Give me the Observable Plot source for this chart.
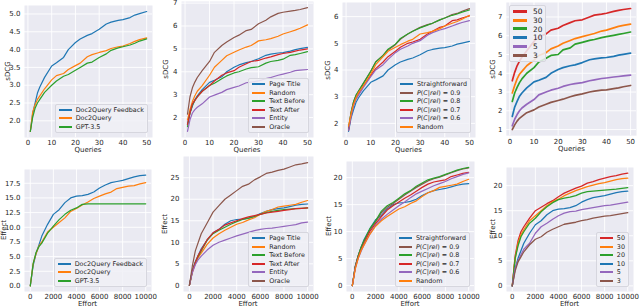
<!DOCTYPE html>
<html><head><meta charset="utf-8">
<script src="https://cdn.jsdelivr.net/npm/d3@7"></script>
<script src="https://cdn.jsdelivr.net/npm/@observablehq/plot@0.6"></script>
<style>
body{margin:0;background:#fff;}
#root{position:relative;width:640px;height:308px;overflow:hidden;font-family:"DejaVu Sans",sans-serif;color:#262626;}
.p{position:absolute;}
.lab{position:absolute;font-size:7px;white-space:nowrap;line-height:1;}
.leg{position:absolute;background:rgba(240,240,246,0.85);border:1px solid #d6d6de;border-radius:2px;padding:1px 3px 1px 2px;font-size:6.4px;}
.row{display:flex;align-items:center;height:8.5px;white-space:nowrap;}
.sw{width:13px;height:0;border-top:2px solid;margin-right:4px;margin-left:1px;}
</style></head><body><div id="root"></div>
<script>
// ---------- x grids ----------
const queries = [1,2,3,4,5,7,10,12,15,17,20,22,25,27,30,33,35,38,40,43,45,47,50];
const effort = [0,250,500,750,1000,1500,2000,2500,3000,3500,4000,4500,5000,5500,6000,6500,7000,7500,8000,8500,9000,9500,10000];

// ---------- tick values ----------
const queryTicks = [0,10,20,30,40,50];
const effortTicks = [0,2000,4000,6000,8000,10000];
const yTicks1 = [2.0,2.5,3.0,3.5,4.0,4.5,5.0];
const yTicks2 = [2,3,4,5,6,7];
const yTicks3 = [2,3,4,5,6];
const yTicks4 = [1,2,3,4,5,6,7];
const yTicks5 = [0,2.5,5,7.5,10,12.5,15,17.5];
const yTicks6 = [0,5,10,15,20,25];
const yTicks7 = [0,5,10,15,20];
const yTicks8 = [0,5,10,15,20];

// ---------- sDCG vs queries ----------
const feedbackQ  = [1.7,2.2,2.5,2.78,2.95,3.22,3.54,3.63,3.78,4.0,4.2,4.3,4.4,4.45,4.57,4.72,4.77,4.82,4.84,4.9,4.97,5.01,5.07];
const doc2queryQ = [1.7,2.25,2.45,2.6,2.7,2.9,3.15,3.27,3.33,3.44,3.55,3.62,3.8,3.86,3.92,3.97,4.03,4.08,4.1,4.17,4.23,4.28,4.33];
const gptQ       = [1.7,2.1,2.35,2.5,2.6,2.8,3.0,3.12,3.25,3.3,3.42,3.5,3.62,3.65,3.78,3.88,3.98,4.05,4.08,4.13,4.18,4.24,4.3];

const randomQ     = [1.9,2.35,2.7,2.95,3.15,3.4,3.85,4.2,4.5,4.7,4.85,4.95,5.08,5.15,5.35,5.4,5.45,5.55,5.65,5.75,5.82,5.9,6.05];
const textBeforeQ = [1.6,2.2,2.55,2.75,2.9,3.15,3.4,3.5,3.7,3.82,3.95,4.0,4.12,4.18,4.22,4.38,4.45,4.5,4.55,4.72,4.75,4.8,4.88];
const textAfterQ  = [1.7,2.2,2.6,2.75,2.9,3.15,3.4,3.6,3.85,3.95,4.05,4.2,4.35,4.45,4.5,4.6,4.65,4.75,4.8,4.85,4.9,4.95,5.0];
const entityQ     = [1.4,1.9,2.2,2.35,2.45,2.6,2.9,2.98,3.1,3.22,3.32,3.38,3.52,3.55,3.6,3.7,3.75,3.85,3.9,3.98,4.05,4.07,4.1];
const oracleQ     = [2.15,2.9,3.3,3.55,3.75,4.05,4.45,4.85,5.15,5.3,5.5,5.6,5.8,5.85,6.1,6.25,6.4,6.55,6.6,6.65,6.68,6.72,6.8];

const p09Q = [1.8,2.4,2.8,3.05,3.2,3.5,3.95,4.3,4.55,4.75,4.95,5.15,5.35,5.45,5.6,5.7,5.75,5.88,5.95,6.08,6.12,6.2,6.3];
const p08Q = [1.8,2.4,2.8,3.05,3.2,3.5,3.95,4.3,4.55,4.78,4.97,5.18,5.35,5.45,5.58,5.68,5.75,5.88,5.95,6.05,6.1,6.17,6.25];
const p07Q = [1.75,2.3,2.7,2.95,3.1,3.4,3.8,4.05,4.3,4.5,4.7,4.85,5.0,5.05,5.15,5.35,5.45,5.6,5.65,5.85,5.88,5.95,6.03];
const p06Q = [1.75,2.25,2.65,2.9,3.05,3.35,3.75,4.0,4.2,4.4,4.65,4.78,4.9,5.0,5.1,5.3,5.4,5.5,5.55,5.65,5.72,5.78,5.85];

const k50Q = [3.6,4.05,4.4,4.65,4.85,5.2,5.7,5.95,6.1,6.3,6.4,6.55,6.7,6.8,6.85,7.0,7.1,7.15,7.2,7.3,7.35,7.4,7.45];
const k30Q = [2.95,3.35,3.7,3.95,4.1,4.4,4.7,4.95,5.1,5.3,5.45,5.6,5.75,5.85,5.95,6.05,6.12,6.25,6.3,6.42,6.5,6.55,6.62];
const k20Q = [2.5,2.95,3.25,3.5,3.7,4.0,4.3,4.6,4.8,4.95,5.0,5.25,5.35,5.55,5.65,5.75,5.8,5.9,5.95,6.02,6.07,6.12,6.2];
const k5Q  = [1.2,1.55,1.8,2.0,2.15,2.35,2.6,2.85,3.0,3.1,3.2,3.3,3.4,3.45,3.5,3.6,3.65,3.72,3.75,3.8,3.83,3.86,3.9];
const k3Q  = [1.0,1.25,1.45,1.6,1.7,1.9,2.05,2.2,2.35,2.45,2.55,2.62,2.75,2.82,2.9,3.0,3.05,3.1,3.12,3.18,3.22,3.28,3.35];

// ---------- Effect vs effort ----------
const feedbackE  = [0,3.5,5.5,7.0,8.5,10.5,12.2,13.0,14.2,15.0,15.3,15.4,15.6,16.0,16.7,17.2,17.6,17.8,18.0,18.3,18.6,18.8,18.9];
const doc2queryE = [0,3.8,5.5,6.8,7.5,9.2,10.0,10.8,11.6,12.7,13.2,13.8,14.3,14.9,15.3,15.7,16.0,16.6,16.8,17.0,17.1,17.4,17.6];
const gptE       = [0,3.8,5.7,6.7,7.3,9.0,10.2,11.3,12.2,12.9,13.3,13.9,14.0,14.0,14.0,14.0,14.0,14.0,14.0,14.0,14.0,14.0,14.0];

const randomE     = [0,3.0,5.0,6.5,7.5,9.5,11.0,12.0,12.8,13.5,14.2,14.6,15.2,15.7,16.5,17.2,17.6,18.2,18.4,18.6,18.8,19.3,19.7];
const textBeforeE = [0,3.3,5.3,6.8,8.0,10.5,12.0,12.8,13.5,14.2,14.8,15.3,15.6,16.0,16.5,16.9,17.2,17.4,17.6,17.7,17.8,17.9,18.0];
const textAfterE  = [0,3.3,5.3,7.0,8.2,10.6,12.2,13.0,14.0,14.5,15.0,15.5,15.9,16.2,16.5,16.8,17.0,17.2,17.4,17.6,17.8,17.9,18.0];
const entityE     = [0,3.0,4.8,6.0,6.8,8.2,9.3,10.0,10.5,11.0,11.5,11.9,12.3,12.7,13.0,13.2,13.3,13.5,13.7,13.9,14.1,14.5,14.7];
const oracleE     = [0,4.5,8.0,10.0,12.0,14.5,17.0,18.5,20.0,21.0,22.0,23.0,23.5,24.5,25.2,26.0,26.3,26.7,27.0,27.5,28.0,28.2,28.5];

const p09E = [0,3.5,5.5,7.0,8.2,10.3,11.8,13.5,14.5,15.2,16.0,16.8,17.5,18.2,18.8,19.4,19.8,20.1,20.5,20.9,21.3,21.6,21.8];
const p08E = [0,3.5,5.5,7.1,8.3,10.5,12.0,13.8,14.8,15.4,16.2,17.0,17.6,18.4,19.0,19.6,19.9,20.2,20.6,21.0,21.4,21.7,21.9];
const p07E = [0,3.3,5.2,6.6,7.8,10.0,11.5,12.8,14.0,14.8,15.5,16.2,16.8,17.5,18.2,18.8,19.2,19.4,19.6,20.2,20.5,20.8,21.0];
const p06E = [0,3.2,5.0,6.3,7.5,9.5,11.2,12.3,13.2,14.0,14.8,15.5,16.3,17.0,17.5,18.0,18.5,18.9,19.3,19.8,20.2,20.6,20.9];

const k50E = [0,6.0,9.0,10.8,11.8,13.5,15.0,15.7,16.4,17.0,17.8,18.5,19.0,19.5,19.9,20.5,20.8,21.2,21.5,21.8,22.0,22.3,22.5];
const k30E = [0,5.5,8.5,10.2,11.2,13.0,14.0,15.0,16.0,16.8,17.3,18.0,18.5,19.0,19.4,19.8,20.1,20.4,20.6,20.9,21.2,21.4,21.5];
const k20E = [0,5.5,8.0,9.8,10.8,12.5,13.5,14.8,15.8,16.6,17.2,17.5,17.7,18.0,18.5,18.8,18.9,19.0,19.1,19.2,19.3,19.45,19.6];
const k5E  = [0,3.5,5.0,6.2,7.3,8.5,10.5,11.8,12.5,13.3,14.0,14.5,14.8,14.9,15.2,15.4,15.6,15.8,16.0,16.1,16.3,16.5,16.7];
const k3E  = [0,3.0,4.8,5.8,6.8,8.2,9.3,9.8,10.7,11.3,11.8,12.3,12.5,12.7,13.0,13.2,13.5,13.7,13.9,14.0,14.2,14.4,14.6];

// ---------- series names ----------
const namesDoc = ["Doc2Query Feedback","Doc2Query","GPT-3.5"];
const namesCtx = ["Page Title","Random","Text Before","Text After","Entity","Oracle"];
const namesProb = ["Straightforward","P(C|rel) = 0.9","P(C|rel) = 0.8","P(C|rel) = 0.7","P(C|rel) = 0.6","Random"];
const namesK = ["50","30","20","10","5","3"];

// ---------- styling / layout (not data) ----------
const C = {blue:"#1f77b4",orange:"#ff7f0e",green:"#2ca02c",red:"#d62728",purple:"#9467bd",brown:"#8c564b"};
const f1 = d3.format(".1f"), fInt = d => String(d);

const panels = [
 {xs:queries, xTicks:queryTicks, yTicks:yTicks1, yFmt:f1, xLabel:"Queries", yLabel:"sDCG",
  names:namesDoc, vals:[feedbackQ,doc2queryQ,gptQ], cols:["blue","orange","green"],
  frame:[24,152,5,137], ylx:8, legend:"lr", lw:1.2},
 {xs:queries, xTicks:queryTicks, yTicks:yTicks2, yFmt:fInt, xLabel:"Queries", yLabel:"sDCG",
  names:namesCtx, vals:[feedbackQ,randomQ,textBeforeQ,textAfterQ,entityQ,oracleQ], cols:["blue","orange","green","red","purple","brown"],
  frame:[181,313,1,137], ylx:166, legend:"lr", lw:1.2},
 {xs:queries, xTicks:queryTicks, yTicks:yTicks3, yFmt:fInt, xLabel:"Queries", yLabel:"sDCG",
  names:namesProb, vals:[feedbackQ,p09Q,p08Q,p07Q,p06Q,randomQ], cols:["blue","brown","green","red","purple","orange"],
  frame:[342,475,2,137], ylx:328, legend:"lr", lw:1.2},
 {xs:queries, xTicks:queryTicks, yTicks:yTicks4, yFmt:fInt, xLabel:"Queries", yLabel:"sDCG",
  names:namesK, vals:[k50Q,k30Q,k20Q,feedbackQ,k5Q,k3Q], cols:["red","orange","green","blue","purple","brown"],
  frame:[506,637,2,136], ylx:493, legend:"ul", lw:1.7},
 {xs:effort, xTicks:effortTicks, yTicks:yTicks5, yFmt:f1, xLabel:"Effort", yLabel:"Effect",
  names:namesDoc, vals:[feedbackE,doc2queryE,gptE], cols:["blue","orange","green"],
  frame:[24,151,169,291], ylx:4, legend:"lr", lw:1.2},
 {xs:effort, xTicks:effortTicks, yTicks:yTicks6, yFmt:fInt, xLabel:"Effort", yLabel:"Effect",
  names:namesCtx, vals:[feedbackE,randomE,textBeforeE,textAfterE,entityE,oracleE], cols:["blue","orange","green","red","purple","brown"],
  frame:[183,313,156,291], ylx:165, legend:"lr", lw:1.2},
 {xs:effort, xTicks:effortTicks, yTicks:yTicks7, yFmt:fInt, xLabel:"Effort", yLabel:"Effect",
  names:namesProb, vals:[feedbackE,p09E,p08E,p07E,p06E,randomE], cols:["blue","brown","green","red","purple","orange"],
  frame:[346,474,161,291], ylx:329, legend:"lr", lw:1.2},
 {xs:effort, xTicks:effortTicks, yTicks:yTicks8, yFmt:fInt, xLabel:"Effort", yLabel:"Effect",
  names:namesK, vals:[k50E,k30E,k20E,feedbackE,k5E,k3E], cols:["red","orange","green","blue","purple","brown"],
  frame:[506,633,167,291], ylx:493, legend:"lr", lw:1.3}
];

const root = document.getElementById("root");
const ML = 24, MR = 4, MT = 3, MB = 14;

function pad(ext){ const r = ext[1]-ext[0]; return [ext[0]-0.05*r, ext[1]+0.05*r]; }
function fmtName(n){
  return n.startsWith("P(C|rel)") ? n.replace("P(C|rel)", "<i>P</i>(<i>C</i>|<i>rel</i>)") : n;
}

panels.forEach(p => {
  const [L,R,T,B] = p.frame;
  const allY = p.vals.flat();
  const xDom = pad(d3.extent(p.xs));
  const yDom = pad(d3.extent(allY));
  const marks = [
    Plot.frame({fill:"#eaeaf2", stroke:"none"}),
    Plot.gridX(p.xTicks, {stroke:"white", strokeOpacity:1, strokeWidth:0.9}),
    Plot.gridY(p.yTicks, {stroke:"white", strokeOpacity:1, strokeWidth:0.9}),
    Plot.axisX(p.xTicks, {tickSize:0, tickPadding:3, tickFormat:fInt, label:null, fontSize:7}),
    Plot.axisY(p.yTicks, {tickSize:0, tickPadding:4, tickFormat:p.yFmt, label:null, fontSize:7}),
    ...p.vals.map((v,i) => Plot.line(p.xs.map((x,j)=>({x, y:v[j]})), {x:"x", y:"y", stroke:C[p.cols[i]], strokeWidth:p.lw, strokeLinejoin:"round"}))
  ];
  const svg = Plot.plot({
    width: (R-L)+ML+MR, height: (B-T)+MT+MB,
    marginLeft:ML, marginRight:MR, marginTop:MT, marginBottom:MB,
    x:{domain:xDom}, y:{domain:yDom},
    style:{background:"none", fontFamily:"DejaVu Sans", fontSize:"7px", color:"#262626", overflow:"visible"},
    marks
  });
  const div = document.createElement("div");
  div.className = "p";
  div.style.left = (L-ML)+"px"; div.style.top = (T-MT)+"px";
  div.appendChild(svg);
  root.appendChild(div);

  // axis labels
  const xl = document.createElement("div");
  xl.className = "lab"; xl.textContent = p.xLabel;
  xl.style.left = ((L+R)/2)+"px"; xl.style.top = (B+10)+"px"; xl.style.transform = "translateX(-50%)";
  root.appendChild(xl);
  const yl = document.createElement("div");
  yl.className = "lab"; yl.textContent = p.yLabel;
  yl.style.left = p.ylx+"px"; yl.style.top = ((T+B)/2)+"px";
  yl.style.transform = "translate(-50%,-50%) rotate(-90deg)";
  root.appendChild(yl);

  // legend
  const lg = document.createElement("div");
  lg.className = "leg";
  p.names.forEach((n,i) => {
    const r = document.createElement("div"); r.className = "row";
    const s = document.createElement("span"); s.className = "sw"; s.style.borderTopColor = C[p.cols[i]];
    const t = document.createElement("span"); t.innerHTML = fmtName(n);
    r.appendChild(s); r.appendChild(t); lg.appendChild(r);
  });
  if (p.legend === "lr") { lg.style.right = (640-R+4)+"px"; lg.style.bottom = (308-B+4)+"px"; }
  else {
    lg.style.left = (L+3)+"px"; lg.style.top = (T+3)+"px"; lg.style.fontSize = "7.4px";
    lg.querySelectorAll(".row").forEach(r => r.style.height = "8.8px");
    lg.querySelectorAll(".sw").forEach(s => { s.style.width = "14px"; s.style.borderTopWidth = "3px"; s.style.marginRight = "6px"; });
  }
  root.appendChild(lg);
});
</script></body></html>
